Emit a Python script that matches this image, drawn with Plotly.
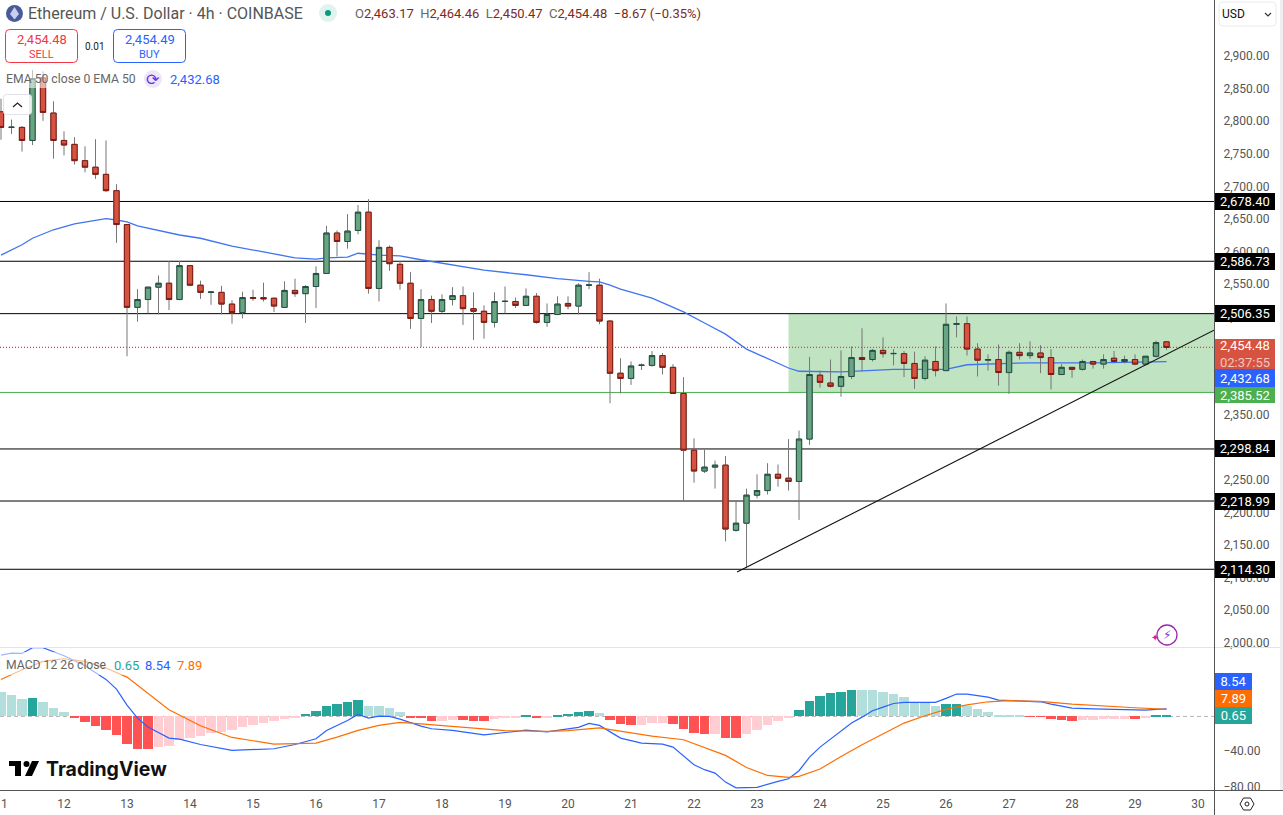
import plotly.graph_objects as go
import numpy as np

W, H = 1283, 815
# ---------- data ----------
opens = [2816,2792,2792,2772,2868,2814,2772,2766,2741,2731,
 2720,2695,2643,2516,2528,2547,2553,2528,2580,2550,
 2539,2539,2521,2508,2531,2531,2530,2516,2542,2537,
 2548,2568,2630,2617,2634,2662,2545,2608,2582,2553,
 2499,2528,2510,2528,2534,2514,2510,2493,2525,2525,
 2519,2533,2493,2505,2522,2518,2550,2550,2495,2415,
 2407,2427,2427,2442,2424,2384,2297,2265,2271,2274,
 2174,2185,2228,2235,2260,2254,2249,2314,2412,2400,
 2395,2410,2439,2436,2450,2445,2445,2430,2407,2433,
 2419,2490,2491,2452,2435,2436,2416,2447,2442,2446,
 2439,2413,2424,2421,2433,2429,2438,2433,2436,2429,
 2441,2463.17]
highs = [2836,2804,2794,2880,2878,2832,2786,2777,2763,2774,
 2772,2705,2643,2544,2547,2565,2587,2587,2581,2557,
 2540,2549,2527,2540,2543,2554,2531,2556,2560,2550,
 2579,2641,2634,2659,2673,2682,2619,2611,2587,2570,
 2544,2534,2536,2547,2548,2539,2519,2539,2548,2531,
 2545,2538,2522,2533,2533,2553,2570,2560,2496,2438,
 2433,2430,2449,2446,2429,2409,2315,2298,2281,2288,
 2220,2238,2260,2277,2275,2314,2327,2440,2419,2436,
 2450,2456,2484,2452,2470,2452,2449,2448,2441,2456,
 2522,2502,2502,2461,2444,2459,2450,2461,2464,2458,
 2452,2429,2424,2436,2433,2444,2449,2442,2444,2441,
 2465,2464.46]
lows = [2773,2782,2755,2765,2802,2744,2749,2735,2723,2713,
 2693,2615,2441,2494,2507,2505,2512,2527,2549,2529,
 2520,2505,2491,2499,2526,2525,2509,2516,2532,2492,
 2515,2568,2594,2606,2628,2537,2525,2572,2543,2483,
 2455,2492,2507,2519,2489,2466,2468,2485,2507,2515,
 2519,2491,2486,2504,2513,2505,2544,2490,2369,2384,
 2397,2420,2425,2413,2384,2218,2247,2262,2238,2157,
 2172,2116,2223,2229,2241,2235,2190,2305,2393,2393,
 2379,2406,2418,2433,2439,2427,2409,2391,2404,2410,
 2419,2470,2442,2410,2419,2396,2383,2436,2437,2415,
 2390,2413,2408,2419,2422,2422,2433,2430,2427,2427,
 2439,2450.47]
closes = [2792,2792.3,2772,2867,2815,2772,2765,2741,2731,2720,
 2695,2643,2516,2528,2547,2553,2528,2580,2550,2539,
 2539.5,2521,2508,2531,2530,2529,2518,2542,2537,2548,
 2568,2630,2617,2633,2662,2545,2608,2583,2553,2499,
 2528,2510,2528,2534,2514,2510,2493,2525,2525.3,2519,
 2533,2493,2505,2521,2518,2550,2550.3,2495,2415,2407,
 2426,2427.3,2442,2424,2384,2297,2265,2271,2274,2176,
 2185,2228,2235,2260,2254,2249,2314,2413,2401,2395,
 2410,2439,2436,2450,2445,2445.3,2430,2407,2435,2419,
 2490,2491,2452,2435,2436,2416,2447,2442,2446,2439,
 2413,2424,2421,2433,2429,2436,2433,2436,2429,2441,
 2462,2454.48]

ema_idx = [0,2,3,5,7,8,9,10,11,12,13,17,19,22,25,28,30,31,33,34,36,38,40,43,46,50,53,56,57,58,59,62,65,67,69,71,73,75,76,78,80,85,90,92,95,98,104,111]
ema_val = [2596,2612,2622,2635,2644,2647,2650,2652,2650,2647,2641,2627,2622,2610,2601,2592,2590,2592,2593,2599,2596,2595,2589,2581,2573,2566,2560,2556,2555,2550,2544,2530,2509,2492,2475,2452,2437,2423,2418,2417,2417,2421,2421,2428,2429,2431,2431,2432.68]

hist = [27.8,24.4,19.9,21.0,16.5,9.8,5.3,-2.3,-6.8,-10.5,
 -15,-20.7,-30.8,-36.4,-36.5,-34.2,-33,-26,-24,-21.8,
 -18.4,-17.3,-15,-11.6,-9.4,-7.1,-4.9,-2.6,-0.8,3,
 6.4,12,14.3,16.5,18.8,12,11.9,9.8,5.3,-1.1,
 -2.3,-4.9,-4.8,-3.8,-3.9,-4.9,-5,-2.6,-1.5,-0.8,
 1.9,-0.8,-0.7,1.9,3,5.3,6.4,4.1,-3.8,-8.3,
 -9.4,-9.3,-7.1,-7,-8.3,-14,-18.4,-19.5,-19.4,-24,
 -24.1,-19.5,-15,-9.4,-4.9,-1.5,7.5,17.7,23.3,26.7,
 27.8,30,29.9,29.8,27.8,25.5,22.2,16.5,16.4,12,
 14.2,14.3,12,8.6,5.3,1.9,1.8,1.7,-0.4,-0.5,
 -2.6,-3.8,-4.9,-3.8,-3.7,-2.7,-2.6,-2.5,-2.6,-1.5,
 1.7,1.8]

macd_idx = [0,1,2,3,4,6,8,10,11,12,13,14,16,17,19,22,26,28,30,31,33,34,35,36,37,38,40,41,43,46,49,50,52,54,55,56,57,59,61,63,64,66,67,68,69,70,72,74,75,76,77,78,79,80,81,82,83,84,85,86,89,90,91,92,94,95,99,100,102,104,108,109,110,111]
macd_val = [69.1,71.4,71,77.4,77.4,68.4,57.1,41.7,30.8,12.8,-1.9,-12,-24.4,-25.5,-31.6,-38.3,-36.4,-31.6,-25.2,-15.8,-4.5,2.3,-1.9,0.4,0,-3,-10.9,-13.9,-15.8,-20.7,-16.9,-15.4,-17.3,-14.6,-12.4,-7.9,-10.1,-24.4,-30,-31.2,-34.6,-54.5,-60,-63.9,-74,-80.4,-80,-73.2,-70.2,-61.2,-45.8,-34.6,-25.5,-17,-7.5,-0.8,6.4,10.5,14.6,15.8,15.8,20.3,25.2,25.2,21.8,18.4,16.5,13.9,9.4,8.6,7.1,7.1,8,8.54]

signal_idx = [0,2,4,6,8,10,12,14,16,19,22,26,30,32,34,36,38,40,44,48,52,54,57,60,62,65,67,69,71,73,75,76,78,80,82,84,86,88,90,92,94,96,99,102,105,108,111]
signal_val = [41.7,52.6,62,65,62,54.5,44.3,26.3,7.5,-10.5,-23.7,-31.2,-30,-23.3,-15.8,-10.1,-6.8,-8.3,-12,-16.1,-16.9,-16.1,-12.8,-18,-22.2,-26.3,-34.9,-43.9,-57.5,-66.5,-68.7,-67.6,-59.3,-45.1,-31.9,-19.5,-7.5,0.75,7.9,13.1,16.5,17.7,16.9,13.9,11.6,9.8,7.89]

levels = [2678.40, 2586.73, 2506.35, 2298.84, 2218.99, 2114.30]
support = 2385.52
last_close = 2454.48
zone_idx = 75
trend_idx = [70.1, 115.52]
trend_val = [2110, 2481]
day_labels = [str(d) for d in range(11, 31)]
price_ticks = list(range(2000, 2901, 50))
macd_ticks = [-80, -40]

# ---------- helpers ----------
def X(x): return x / W
def Y(y): return 1 - y / H
def rrect(x0, y0, x1, y1, r):
    a, b, c, d = X(x0), Y(y0), X(x1), Y(y1)
    rx, ry = r / W, r / H
    return (f"M{a+rx},{b} L{c-rx},{b} Q{c},{b} {c},{b-ry} L{c},{d+ry} Q{c},{d} {c-rx},{d} "
            f"L{a+rx},{d} Q{a},{d} {a},{d+ry} L{a},{b-ry} Q{a},{b} {a+rx},{b} Z")
def poly(pts):
    return "M" + " L".join(f"{X(a)},{Y(b)}" for a, b in pts) + " Z"

FONT = "Roboto"
n = len(closes)
idx = list(range(n))
GREEN_F, GREEN_L = "#6aa583", "#1f5040"
RED_F, RED_L = "#d55340", "#7d1a12"
WICK = "#777777"
x_rng = [-0.095, 115.52]

hist_colors = []
for i, v in enumerate(hist):
    prev = hist[i - 1] if i else v + 1
    if v >= 0:
        hist_colors.append("#26a69a" if v > prev else "#b2dfdb")
    else:
        hist_colors.append("#ff5252" if v < prev else "#ffcdd2")

fig = go.Figure()
fig.add_trace(go.Scatter(x=ema_idx, y=ema_val, mode="lines", line=dict(color="#3f74f2", width=1.3),
                         xaxis="x", yaxis="y", hoverinfo="skip", showlegend=False))
fig.add_trace(go.Candlestick(x=idx, open=opens, high=highs, low=lows, close=closes, xaxis="x", yaxis="y3",
    increasing=dict(line=dict(color=WICK, width=1), fillcolor=WICK),
    decreasing=dict(line=dict(color=WICK, width=1), fillcolor=WICK),
    whiskerwidth=0, hoverinfo="skip", showlegend=False))
tops = np.maximum(opens, closes).tolist()
bots = np.minimum(opens, closes).tolist()
fig.add_trace(go.Candlestick(x=idx, open=opens, high=tops, low=bots, close=closes, xaxis="x", yaxis="y3",
    increasing=dict(line=dict(color=GREEN_L, width=1), fillcolor=GREEN_F),
    decreasing=dict(line=dict(color=RED_L, width=1), fillcolor=RED_F),
    whiskerwidth=0, hoverinfo="skip", showlegend=False))
fig.add_trace(go.Bar(x=idx, y=hist, width=0.87, marker=dict(color=hist_colors, line=dict(width=0)),
                     xaxis="x", yaxis="y2", hoverinfo="skip", showlegend=False))
fig.add_trace(go.Scatter(x=macd_idx, y=macd_val, mode="lines", line=dict(color="#2962ff", width=1.2),
                         xaxis="x", yaxis="y2", hoverinfo="skip", showlegend=False))
fig.add_trace(go.Scatter(x=signal_idx, y=signal_val, mode="lines", line=dict(color="#ff6d00", width=1.2),
                         xaxis="x", yaxis="y2", hoverinfo="skip", showlegend=False))

shapes = []
shapes.append(dict(type="rect", xref="x", yref="y", x0=zone_idx, x1=trend_idx[1], y0=support, y1=levels[2],
                   fillcolor="#c0e3c2", line=dict(width=0), layer="below"))
for lv in levels:
    shapes.append(dict(type="line", xref="x", yref="y", x0=x_rng[0], x1=x_rng[1], y0=lv, y1=lv,
                       line=dict(color="#000000", width=1), layer="below"))
shapes.append(dict(type="line", xref="x", yref="y", x0=x_rng[0], x1=x_rng[1], y0=support, y1=support,
                   line=dict(color="#4caf50", width=1), layer="below"))
shapes.append(dict(type="line", xref="x", yref="y", x0=x_rng[0], x1=x_rng[1], y0=last_close, y1=last_close,
                   line=dict(color="#d9433a", width=1.3, dash="1px,2px"), layer="below"))
shapes.append(dict(type="line", xref="x domain", yref="y2", x0=0, x1=1, y0=0, y1=0,
                   line=dict(color="#b5b5b5", width=1, dash="4px,3px"), layer="below"))
shapes.append(dict(type="line", xref="x", yref="y", x0=trend_idx[0], x1=trend_idx[1], y0=trend_val[0], y1=trend_val[1],
                   line=dict(color="#111111", width=1.1), layer="above"))

def pshape(**k):
    d = dict(xref="paper", yref="paper", layer="above"); d.update(k); shapes.append(d)

pshape(type="rect", x0=X(0), x1=X(225), y0=Y(88), y1=Y(70), fillcolor="rgba(255,255,255,0.55)", line=dict(width=0))
pshape(type="rect", x0=X(0), x1=X(206), y0=Y(675), y1=Y(652), fillcolor="rgba(255,255,255,0.55)", line=dict(width=0))
pshape(type="line", x0=X(0), x1=X(1280), y0=Y(647.5), y1=Y(647.5), line=dict(color="#e0e3eb", width=1))
pshape(type="line", x0=X(0), x1=X(1283), y0=Y(790.5), y1=Y(790.5), line=dict(color="#555555", width=1))
pshape(type="line", x0=X(1214.5), x1=X(1214.5), y0=Y(0), y1=Y(815), line=dict(color="#555555", width=1))
pshape(type="rect", x0=X(1280), x1=X(1283), y0=Y(0), y1=Y(790), fillcolor="#eeeeee", line=dict(width=0))
pshape(type="path", path=rrect(5.5, 29.5, 77.5, 62.5, 4), fillcolor="#ffffff", line=dict(color="#f23645", width=1))
pshape(type="path", path=rrect(113.5, 29.5, 185.5, 62.5, 4), fillcolor="#ffffff", line=dict(color="#2962ff", width=1))
pshape(type="path", path=rrect(3.5, 94.5, 31.5, 114.5, 3), fillcolor="rgba(255,255,255,0.88)", line=dict(color="#e0e3eb", width=1))
pshape(type="path", path=f"M{X(13)},{Y(107)} L{X(17.5)},{Y(103)} L{X(22)},{Y(107)}", line=dict(color="#222222", width=1.3))
pshape(type="path", path=rrect(1219, 2, 1276, 26, 4), fillcolor="#ffffff", line=dict(color="#e9ebf0", width=1))
pshape(type="path", path=f"M{X(1265)},{Y(13)} L{X(1268)},{Y(16)} L{X(1271)},{Y(13)}", line=dict(color="#333333", width=1.2))
pshape(type="circle", x0=X(6), x1=X(23), y0=Y(22), y1=Y(5), fillcolor="#4a5a98", line=dict(width=0))
pshape(type="path", path=poly([(14.5, 7), (19, 14), (14.5, 19.5), (10, 14)]), fillcolor="#c6cff0", line=dict(width=0))
pshape(type="circle", x0=X(319), x1=X(337), y0=Y(22), y1=Y(4), fillcolor="#e0f3ef", line=dict(width=0))
pshape(type="circle", x0=X(325), x1=X(331), y0=Y(16), y1=Y(10), fillcolor="#089981", line=dict(width=0))
pshape(type="circle", x0=X(144), x1=X(162), y0=Y(88), y1=Y(70), fillcolor="#ece6fb", line=dict(width=0))
pshape(type="circle", x0=X(1157), x1=X(1177), y0=Y(645), y1=Y(625), fillcolor="rgba(255,255,255,0)", line=dict(color="#9c27b0", width=1.3))
pshape(type="path", path=poly([(9, 761), (21, 761), (21, 776), (15, 776), (15, 766), (9, 766)]), fillcolor="#000000", line=dict(width=0))
pshape(type="circle", x0=X(23.5), x1=X(29.5), y0=Y(767), y1=Y(761), fillcolor="#000000", line=dict(width=0))
pshape(type="path", path=poly([(32, 761), (39, 761), (32, 776), (25, 776)]), fillcolor="#000000", line=dict(width=0))
pshape(type="path", path=poly([(1240, 804), (1243.5, 798), (1250.5, 798), (1254, 804), (1250.5, 810), (1243.5, 810)]),
       fillcolor="#ffffff", line=dict(color="#222222", width=1))
pshape(type="circle", x0=X(1245), x1=X(1249), y0=Y(806), y1=Y(802), fillcolor="#ffffff", line=dict(color="#222222", width=1))

ann = []
def txt(x, y, s, size=12, color="#555555", anchor="left", **k):
    ann.append(dict(xref="paper", yref="paper", x=X(x), y=Y(y), text=s, showarrow=False, xanchor=anchor, yanchor="middle",
                    font=dict(family=k.pop("family", FONT), size=size, color=color), borderpad=0, borderwidth=0, **k))
def chip(y0, y1, s, bg, x1=1275):
    ann.append(dict(xref="paper", yref="paper", x=X(1215), y=Y((y0 + y1) / 2), text=s, showarrow=False,
                    xanchor="left", yanchor="middle", width=x1 - 1215, height=y1 - y0, bgcolor=bg, align="center",
                    font=dict(family=FONT, size=13, color="#ffffff"), borderpad=0, borderwidth=0))

txt(28, 13, "Ethereum / U.S. Dollar · 4h · COINBASE", size=16)
D = "#7d2a1e"; G = "#666666"
txt(355, 13, f'<span style="color:{G}">O</span>2,463.17  <span style="color:{G}">H</span>2,464.46  '
             f'<span style="color:{G}">L</span>2,450.47  <span style="color:{G}">C</span>2,454.48  −8.67 (−0.35%)', size=13, color=D)
txt(41.5, 39.5, "2,454.48", size=13, color="#f23645", anchor="center")
txt(41.5, 54, "SELL", size=11, color="#f23645", anchor="center")
txt(149.5, 39.5, "2,454.49", size=13, color="#2962ff", anchor="center")
txt(149.5, 54, "BUY", size=11, color="#2962ff", anchor="center")
txt(95.5, 46, "0.01", size=10, color="#222222", anchor="center")
txt(6, 79, "EMA 50 close 0 EMA 50", size=12.2, color="#666666")
txt(153, 79, "⟳", size=16, color="#6a2fe0", anchor="center", family="DejaVu Sans")
txt(170, 79, "2,432.68", size=13, color="#2962ff")
txt(6, 665, "MACD 12 26 close", size=12.2, color="#666666")
txt(114, 665, "0.65", size=13, color="#26a69a")
txt(145, 665, "8.54", size=13, color="#2962ff")
txt(177, 665, "7.89", size=13, color="#ff6d00")
txt(46, 769, "<b>TradingView</b>", size=19.5, color="#111111", family="Inter")
txt(1222, 14, "USD", size=12, color="#111111")
txt(1167, 635, "⚡", size=12, color="#7b2fd0", anchor="center", family="DejaVu Sans")
txt(1155, 637, "✦", size=10, color="#d81b9a", anchor="center", family="DejaVu Sans")

for lv in levels:
    ann.append(dict(xref="paper", yref="y", x=X(1215), y=lv, text=f"{lv:,.2f}", showarrow=False, xanchor="left",
                    yanchor="middle", width=60, height=17, bgcolor="#000000", align="center",
                    font=dict(family=FONT, size=13, color="#ffffff"), borderpad=0, borderwidth=0))
chip(339, 369, "2,454.48<br><span style='color:#f3c6bf'>02:37:55</span>", "#d55340")
chip(369, 387, "2,432.68", "#2962ff")
chip(387, 403, "2,385.52", "#4caf50")
chip(673, 690, "8.54", "#2962ff", 1252)
chip(690, 707, "7.89", "#ff6d00", 1252)
chip(707, 724, "0.65", "#26a69a", 1252)

rng_main = [1995.1, 2987.4]
tick_font = dict(family=FONT, size=12, color="#555555")
fig.update_layout(
    template="none",
    width=W, height=H, margin=dict(l=0, r=0, t=0, b=0, autoexpand=False), autosize=False,
    paper_bgcolor="#ffffff", plot_bgcolor="#ffffff", showlegend=False, hovermode=False,
    boxgap=0.28, bargap=0, barmode="overlay", dragmode=False,
    xaxis=dict(domain=[0, 1214 / W], range=x_rng, anchor="y2", showgrid=False, zeroline=False, automargin=False,
               tickmode="array", tickvals=[6 * i for i in range(len(day_labels))], ticktext=day_labels,
               ticks="outside", ticklen=3, tickcolor="rgba(0,0,0,0)", tickfont=tick_font, ticklabeloverflow="allow",
               showline=False, rangeslider=dict(visible=False), fixedrange=True),
    yaxis=dict(domain=[1 - 647 / H, 1], range=rng_main, anchor="x", side="right", showgrid=False, zeroline=False, automargin=False,
               tickmode="array", tickvals=price_ticks, tickformat=",.2f", ticks="outside", ticklen=6, ticklabelshift=-1,
               tickcolor="rgba(0,0,0,0)", tickfont=tick_font, showline=False, fixedrange=True),
    yaxis3=dict(overlaying="y", range=rng_main, anchor="x", side="right", visible=False, fixedrange=True, automargin=False),
    yaxis2=dict(domain=[1 - 790 / H, 1 - 648 / H], range=[-82.9, 77.1], anchor="x", side="right", showgrid=False, zeroline=False, automargin=False,
                tickmode="array", tickvals=macd_ticks, tickformat=".2f", ticks="outside", ticklen=6, ticklabelshift=-1,
                tickcolor="rgba(0,0,0,0)", tickfont=tick_font, showline=False, fixedrange=True),
    shapes=shapes, annotations=ann,
)
fig.write_html("out.html", config=dict(displayModeBar=False),
               post_script="document.body.style.margin='0';document.body.style.overflow='hidden';")
